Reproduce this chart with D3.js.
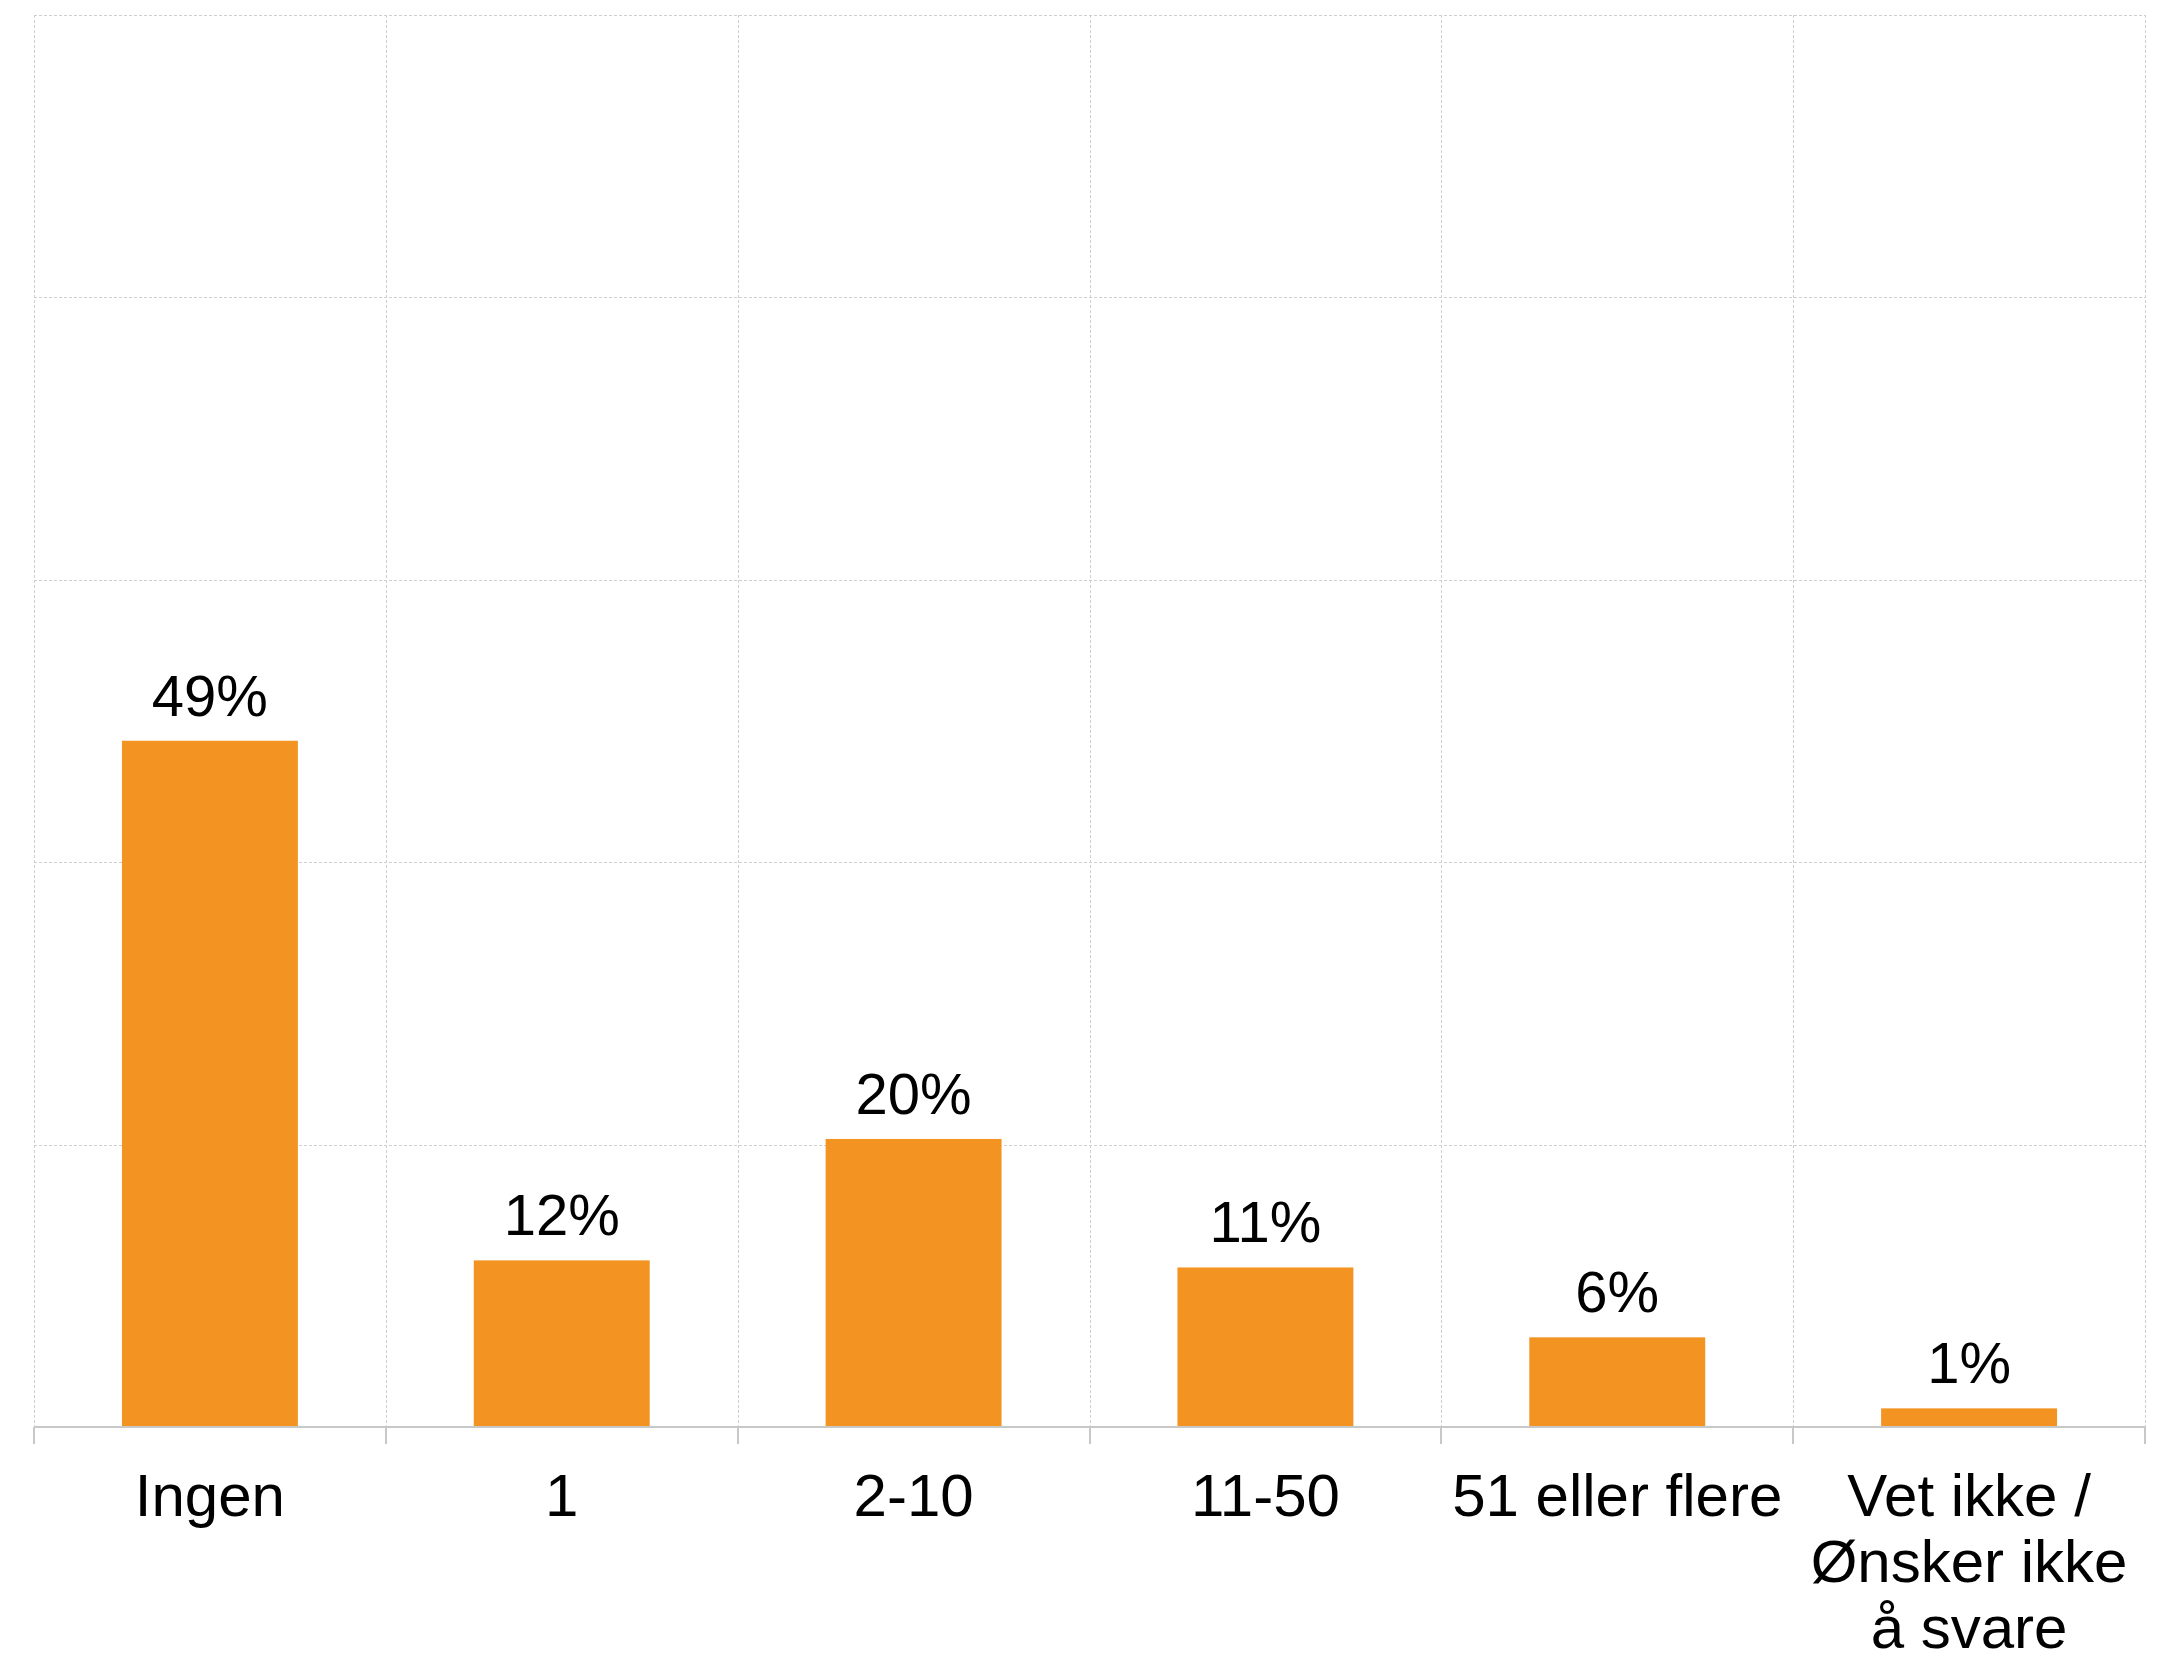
<!DOCTYPE html>
<html lang="no">
<head>
    <meta charset="UTF-8">
    <title>Diagram</title>
    <style>
        body{ margin: 0; background: #fff; }
        svg{ display: block; font-family: "Liberation Sans", Arial, sans-serif; }
    </style>
</head>
<body>
    <script src="https://cdn.jsdelivr.net/npm/d3@7"></script>
    <script>
        const largeur = 2181;
        const hauteur = 1661;

        // données
        const categories = ["Ingen", "1", "2-10", "11-50", "51 eller flere", "Vet ikke / Ønsker ikke å svare"];
        const valeurs = [0.486, 0.118, 0.204, 0.113, 0.0635, 0.0132];
        const graduations = [0, 0.2, 0.4, 0.6, 0.8, 1];

        const marge = {haut: 15, droite: 36, bas: 234, gauche: 34};

        const svg = d3.select("body")
            .append("svg")
            .attr("width", largeur)
            .attr("height", hauteur);

        const x = d3.scaleBand()
            .domain(categories)
            .range([marge.gauche, largeur - marge.droite])
            .paddingInner(0)
            .paddingOuter(0);

        const y = d3.scaleLinear()
            .domain([0, 1])
            .range([hauteur - marge.bas, marge.haut]);

        const gris = "#cfcfcf";

        // lignes horizontales pointillées
        svg.append("g")
            .selectAll("line")
            .data(graduations.slice(1))
            .join("line")
                .attr("x1", x.range()[0])
                .attr("x2", x.range()[1])
                .attr("y1", d => Math.round(y(d)) + 0.5)
                .attr("y2", d => Math.round(y(d)) + 0.5)
                .attr("stroke", gris)
                .attr("stroke-dasharray", "3,2");

        // lignes verticales pointillées aux limites des catégories
        const limites = categories.map(c => x(c)).concat([x.range()[1]]);
        svg.append("g")
            .selectAll("line")
            .data(limites)
            .join("line")
                .attr("x1", d => Math.round(d) + 0.5)
                .attr("x2", d => Math.round(d) + 0.5)
                .attr("y1", y(1))
                .attr("y2", y(0))
                .attr("stroke", gris)
                .attr("stroke-dasharray", "3,2");

        // barres
        const largeurBarre = x.bandwidth() * 0.5;
        svg.append("g")
            .selectAll("rect")
            .data(valeurs)
            .join("rect")
                .attr("x", (d, i) => x(categories[i]) + (x.bandwidth() - largeurBarre) / 2)
                .attr("y", d => y(d))
                .attr("width", largeurBarre)
                .attr("height", d => y(0) - y(d))
                .attr("fill", "#f39321");

        // étiquettes de valeurs
        svg.append("g")
            .selectAll("text")
            .data(valeurs)
            .join("text")
                .attr("x", (d, i) => x(categories[i]) + x.bandwidth() / 2)
                .attr("y", d => y(d) - 25)
                .attr("text-anchor", "middle")
                .attr("font-size", 58)
                .attr("fill", "#000")
                .text(d => d3.format(".0%")(d));

        // axe des x
        const axe = svg.append("g")
            .attr("transform", `translate(0, ${y(0)})`);
        axe.append("line")
            .attr("x1", x.range()[0])
            .attr("x2", x.range()[1])
            .attr("stroke", "#c8c8c8")
            .attr("stroke-width", 2);
        axe.selectAll(".tick")
            .data(limites)
            .join("line")
                .attr("class", "tick")
                .attr("x1", d => Math.round(d))
                .attr("x2", d => Math.round(d))
                .attr("y1", 0)
                .attr("y2", 17)
                .attr("stroke", "#c8c8c8")
                .attr("stroke-width", 2);

        // libellés des catégories, coupés sur plusieurs lignes si besoin
        const libelles = axe.selectAll(".libelle")
            .data(categories)
            .join("text")
                .attr("class", "libelle")
                .attr("text-anchor", "middle")
                .attr("font-size", 60)
                .attr("fill", "#000")
                .attr("x", d => x(d) + x.bandwidth() / 2)
                .attr("y", 89);

        libelles.each(function(d) {
            const t = d3.select(this);
            const mots = d.split(" ");
            let ligne = [];
            let tspan = t.append("tspan").attr("x", x(d) + x.bandwidth() / 2).attr("dy", 0);
            mots.forEach(m => {
                ligne.push(m);
                tspan.text(ligne.join(" "));
                if (tspan.node().getComputedTextLength() > x.bandwidth() - 4 && ligne.length > 1) {
                    ligne.pop();
                    tspan.text(ligne.join(" "));
                    ligne = [m];
                    tspan = t.append("tspan")
                        .attr("x", x(d) + x.bandwidth() / 2)
                        .attr("dy", 66)
                        .text(m);
                }
            });
        });
    </script>
</body>
</html>
